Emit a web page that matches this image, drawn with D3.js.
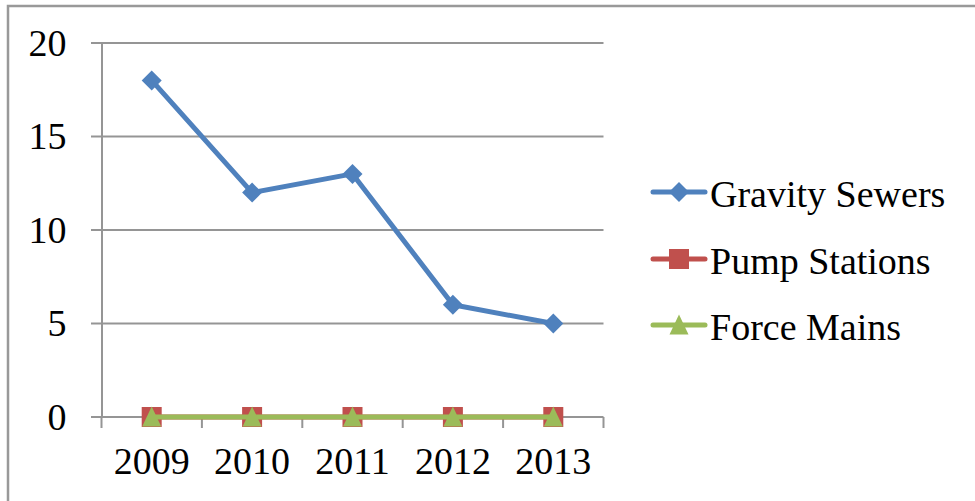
<!DOCTYPE html>
<html><head><meta charset="utf-8">
<script src="https://cdn.jsdelivr.net/npm/d3@7"></script>
<style>body{margin:0;background:#fff}svg{display:block}</style>
</head><body>
<svg id="c" width="975" height="501"></svg>
<script>
const years = ["2009","2010","2011","2012","2013"];
const gravitySewers = [18,12,13,6,5];
const pumpStations = [0,0,0,0,0];
const forceMains = [0,0,0,0,0];
const yTicks = [0,5,10,15,20];
const seriesNames = ["Gravity Sewers","Pump Stations","Force Mains"];

const series = [
  {name: seriesNames[0], values: gravitySewers, color: "#4F81BD", marker: "diamond"},
  {name: seriesNames[1], values: pumpStations, color: "#C0504D", marker: "square"},
  {name: seriesNames[2], values: forceMains, color: "#9BBB59", marker: "triangle"}
];

const svg = d3.select("#c");
const font = "'Liberation Serif', 'Times New Roman', serif";
const fs = 38;
const grid = "#959595";

// chart border
svg.append("path").attr("d","M8,501 V6 H975").attr("fill","none").attr("stroke","#999").attr("stroke-width",2.5);

const x = d3.scaleBand().domain(years).range([101.5,603.5]);
const y = d3.scaleLinear().domain([0,20]).range([417,43]);

// gridlines
svg.append("g").selectAll("line").data(yTicks).join("line")
  .attr("x1",91).attr("x2",603.5).attr("y1",d=>y(d)).attr("y2",d=>y(d))
  .attr("stroke",grid).attr("stroke-width",2);

// y axis
const yAx = svg.append("g").attr("transform","translate(101.5,0)")
  .call(d3.axisLeft(y).tickValues(yTicks).tickSize(0).tickPadding(35));
yAx.select(".domain").attr("stroke",grid).attr("stroke-width",2);
yAx.selectAll("text").attr("font-family",font).attr("font-size",fs).attr("fill","#000");

// x axis
const xAx = svg.append("g").attr("transform","translate(0,417)")
  .call(d3.axisBottom(x).tickSize(0).tickPadding(30));
xAx.select(".domain").remove();
xAx.selectAll("text").attr("font-family",font).attr("font-size",fs).attr("fill","#000");
const bounds = years.map(d=>x(d)).concat([x(years[years.length-1])+x.bandwidth()]);
svg.append("g").selectAll("line").data(bounds).join("line")
  .attr("x1",d=>d).attr("x2",d=>d).attr("y1",417).attr("y2",428)
  .attr("stroke",grid).attr("stroke-width",2);

function markerPath(type, s){
  if(type==="diamond") return `M0,${-s}L${s},0L0,${s}L${-s},0Z`;
  if(type==="square") return `M${-s},${-s}H${s}V${s}H${-s}Z`;
  return `M0,${-s*1.1}L${s},${s}H${-s}Z`;
}
const msize = {diamond:10, square:10, triangle:9.5};

const line = d3.line().x((d,i)=>x(years[i])+x.bandwidth()/2).y(d=>y(d));
// draw order: gravity, pump, force
series.forEach(s=>{
  svg.append("path").attr("d",line(s.values)).attr("fill","none")
    .attr("stroke",s.color).attr("stroke-width",5).attr("stroke-linejoin","round").attr("stroke-linecap","round");
  svg.append("g").selectAll("path").data(s.values).join("path")
    .attr("transform",(d,i)=>`translate(${x(years[i])+x.bandwidth()/2},${y(d)})`)
    .attr("d",markerPath(s.marker,msize[s.marker])).attr("fill",s.color);
});

// legend
const legY = [192,259,325];
const lg = svg.append("g");
series.forEach((s,i)=>{
  const g = lg.append("g").attr("transform",`translate(0,${legY[i]})`);
  g.append("line").attr("x1",653).attr("x2",705).attr("y1",0).attr("y2",0)
    .attr("stroke",s.color).attr("stroke-width",5).attr("stroke-linecap","round");
  g.append("path").attr("transform","translate(679,0)").attr("d",markerPath(s.marker,msize[s.marker])).attr("fill",s.color);
  g.append("text").attr("x",710).attr("y",15).text(s.name)
    .attr("font-family",font).attr("font-size",fs).attr("fill","#000");
});
</script>
</body></html>
